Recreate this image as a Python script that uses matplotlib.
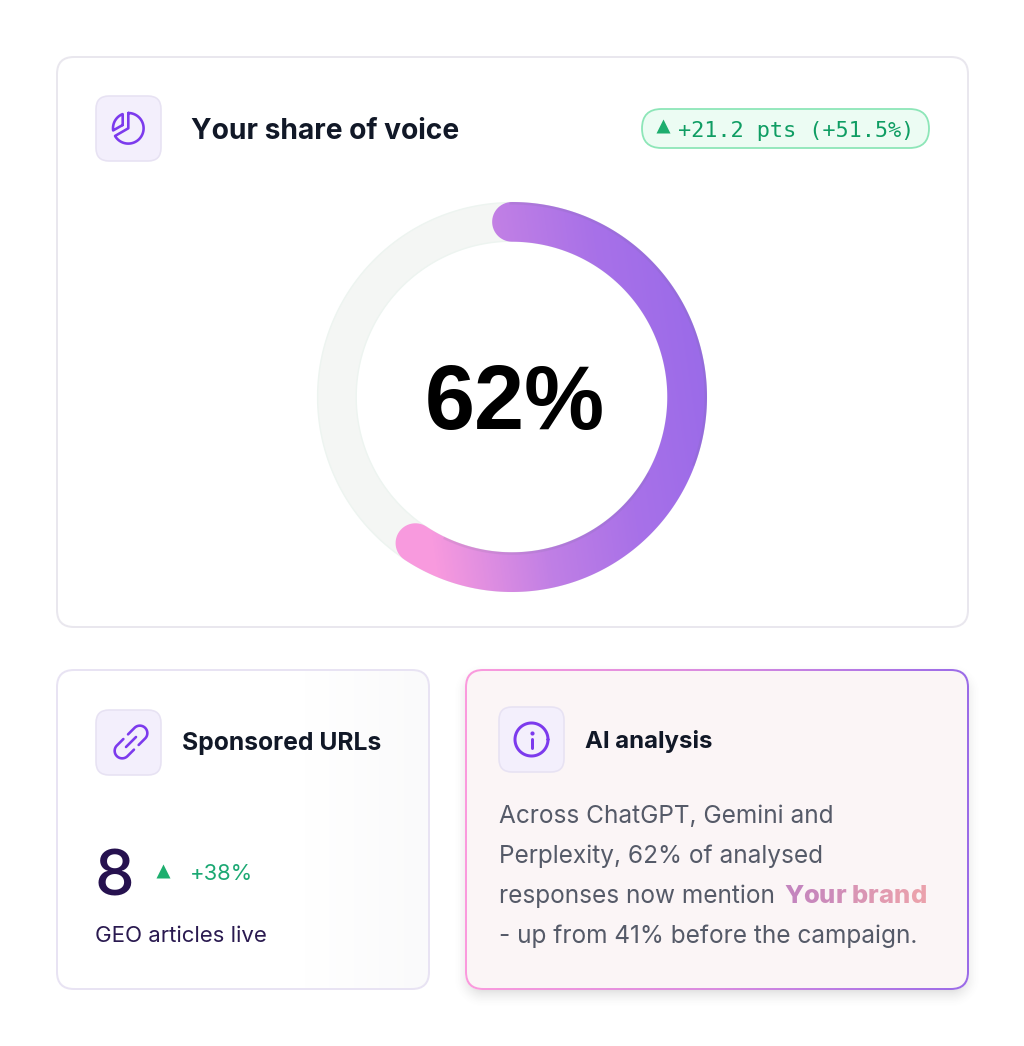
import matplotlib
matplotlib.use('Agg')
import matplotlib.pyplot as plt
import numpy as np
from matplotlib.patches import FancyBboxPatch, PathPatch
from matplotlib.path import Path
from matplotlib.colors import LinearSegmentedColormap

# values
share = 62
card_title = "Your share of voice"
pill_label = "+21.2 pts (+51.5%)"
share_label = "62%"
urls_title = "Sponsored URLs"
urls_value = "8"
urls_change = "+38%"
urls_caption = "GEO articles live"
ai_title = "AI analysis"
ai_lines = ["Across ChatGPT, Gemini and", "Perplexity, 62% of analysed",
            "responses now mention", "- up from 41% before the campaign."]
ai_brand = "Your brand"

W, H = 1024, 1046
PX = 0.72  # one pixel in points at dpi 100
PURPLE = '#7C3AED'
GREEN = '#1DAE6E'

plt.rcParams['font.family'] = ['Inter', 'DejaVu Sans']

fig = plt.figure(figsize=(W / 100, H / 100), dpi=100)
ax = fig.add_axes([0, 0, 1, 1])
ax.axis('off')


def rbox(x0, y0, x1, y1, r, fc, ec, lw=2, z=1):
    p = FancyBboxPatch((x0 + r, y0 + r), x1 - x0 - 2 * r, y1 - y0 - 2 * r,
                       boxstyle='round,pad=%f,rounding_size=%f' % (r, r),
                       fc=fc, ec=ec, lw=lw * PX, zorder=z)
    ax.add_patch(p)
    return p


def hgrad(x0, x1, y0, y1, colors, clip=None, z=2):
    cmap = LinearSegmentedColormap.from_list('g', colors)
    g = np.linspace(0, 1, 256).reshape(1, -1)
    im = ax.imshow(g, extent=(x0, x1, y1, y0), cmap=cmap, aspect='auto',
                   interpolation='bilinear', zorder=z)
    if clip is not None:
        im.set_clip_path(clip)
    return im


def icon_box(x0, y0):
    rbox(x0, y0, x0 + 65, y0 + 65, 13, '#F3EFFC', '#E7E2F3', 1.6, z=4)


def stroke(xs, ys, lw=2.6, color=PURPLE):
    ax.plot(xs, ys, color=color, lw=lw * PX, solid_capstyle='round',
            solid_joinstyle='round', zorder=5)


def arc_xy(cx, cy, r, a0, a1, n=60):
    # angles clockwise from the top, in degrees
    a = np.radians(np.linspace(a0, a1, n))
    return cx + r * np.sin(a), cy - r * np.cos(a)


# main card
rbox(57, 57, 968, 627, 17, 'white', '#E9E7EE', 2)
icon_box(96, 96)
xs, ys = arc_xy(128.3, 128.3, 15.3, 0, 240)
stroke(np.r_[128.3, xs, 128.3, 128.3], np.r_[113, ys, 128.3, 113])
xs, ys = arc_xy(128.3, 128.3, 15.3, 262, 338)
stroke(np.r_[122.7, xs, 122.7, 122.7], np.r_[125, ys, 114.3, 125])
ax.text(191, 139, card_title, fontsize=28.2 * PX, fontweight='bold', color='#111827',
        va='baseline', ha='left', zorder=5)

# change pill
rbox(642, 109, 929, 148, 19.5, '#ECFCF3', '#8DE6B8', 1.8)
ax.plot([663], [126], marker='^', ms=11 * PX * 1.25, color=GREEN, mec='none', zorder=5)
ax.text(678, 137, pill_label, fontsize=21.9 * PX, family='DejaVu Sans Mono', color='#0F9D63',
        va='baseline', ha='left', zorder=5)

# ring
cx, cy, R_out, R_in = 512, 397, 195, 155.3
R_mid = (R_out + R_in) / 2
cap = (R_out - R_in) / 2
cap_deg = np.degrees(cap / R_mid)
a = np.linspace(0, 2 * np.pi, 300)
track = Path(np.r_[np.c_[cx + (R_out - 0.6) * np.cos(a), cy + (R_out - 0.6) * np.sin(a)],
                   np.c_[cx + (R_in + 0.5) * np.cos(a[::-1]), cy + (R_in + 0.5) * np.sin(a[::-1])]])
ax.add_patch(PathPatch(track, fc='#F4F6F4', ec='#EDF4F0', lw=1.4 * PX, zorder=2))

end_deg = share / 100 * 360 - cap_deg * 1.5
ox, oy = arc_xy(cx, cy, R_out, 0, end_deg, 200)
ix, iy = arc_xy(cx, cy, R_in, end_deg, 0, 200)
ex, ey = arc_xy(cx, cy, R_mid, end_deg, end_deg, 1)
t = np.radians(end_deg) + np.linspace(0, np.pi, 30)
end_x = ex[0] + cap * np.sin(t)
end_y = ey[0] - cap * np.cos(t)
t2 = np.linspace(np.pi, 2 * np.pi, 30)
start_x = cx + cap * np.sin(t2)
start_y = cy - R_mid - cap * np.cos(t2)
verts = np.c_[np.r_[ox, end_x, ix, start_x], np.r_[oy, end_y, iy, start_y]]
band = PathPatch(Path(np.r_[verts, verts[:1]], closed=True), fc='none', ec='none', zorder=2)
ax.add_patch(band)
ring_cmap = LinearSegmentedColormap.from_list(
    'ring', [(0, '#F89ADE'), (0.39, '#C07FE5'), (0.7, '#A871E8'), (1, '#9B6BE8')])
gx, gy = np.meshgrid(np.linspace(300, 720, 420), np.linspace(190, 600, 410))
ring_t = np.clip((gx - 410) / 297 + (397 - gy) * 0.0005, 0, 1)
im = ax.imshow(ring_t, extent=(300, 720, 600, 190), cmap=ring_cmap, vmin=0, vmax=1,
               aspect='auto', interpolation='bilinear', zorder=3)
im.set_clip_path(band)
# faint dark rim on the coloured arc
for rr, a0, a1 in [(R_out, 0, 110), (R_in, 120, 205)]:
    xs, ys = arc_xy(cx, cy, rr, a0, a1, 120)
    rim, = ax.plot(xs, ys, color='#6B6B8A', lw=5 * PX, alpha=0.13, zorder=3.5)
    rim.set_clip_path(band)
ax.text(cx + 3, 429, share_label, fontsize=90 * PX, fontweight='bold', family='Liberation Sans',
        color='black', ha='center', va='baseline', zorder=5)

# sponsored urls card
card = rbox(57, 670, 429, 989, 17, 'white', 'none', 0)
hgrad(57, 429, 670, 989, ['#FFFFFF', '#FFFFFF', '#FFFFFF', '#FAFAFB'], clip=card, z=1.5)
rbox(57, 670, 429, 989, 17, 'none', '#E8E3F3', 2, z=2)
icon_box(96, 710)
icx, icy = 131, 742
u = np.array([1, -1]) / np.sqrt(2)
v = np.array([1, 1]) / np.sqrt(2)
for sign in (1, -1):
    th = np.linspace(-np.pi / 2, np.pi / 2, 30)
    us = np.r_[3.3, 12.5 + 7.5 * np.cos(th), 3.3]
    vs = np.r_[-7.5, 7.5 * np.sin(th), 7.5]
    stroke(icx + sign * (us * u[0] + vs * v[0]), icy + sign * (us * u[1] + vs * v[1]))
stroke([icx - 5, icx + 5], [icy + 5, icy - 5])
ax.text(182, 750, urls_title, fontsize=24.7 * PX, fontweight='bold', color='#111827',
        va='baseline', ha='left', zorder=5)
ax.text(95, 895, urls_value, fontsize=63 * PX, fontweight='medium', color='#26114F',
        va='baseline', ha='left', zorder=5)
ax.plot([163], [871], marker='^', ms=11 * PX * 1.25, color=GREEN, mec='none', zorder=5)
ax.text(190, 880, urls_change, fontsize=22 * PX, fontweight='normal', color='#1BA873',
        va='baseline', ha='left', zorder=5)
ax.text(95, 942, urls_caption, fontsize=22.2 * PX, color='#2A1A50',
        va='baseline', ha='left', zorder=5)

# ai analysis card, shadow first
x0, y0, x1, y1, r = 466, 670, 968, 989, 17
gx, gy = np.meshgrid(np.arange(440, 995), np.arange(650, 1030))
qx = np.abs(gx + 0.5 - (x0 + x1) / 2) - ((x1 - x0) / 2 - r)
qy = np.abs(gy + 0.5 - (y0 + y1 + 12) / 2) - ((y1 - y0) / 2 - r)
d = np.hypot(np.maximum(qx, 0), np.maximum(qy, 0)) + np.minimum(np.maximum(qx, qy), 0) - r
alpha = np.clip(0.5 - d / 28, 0, 1) ** 2 * 0.38
shadow = np.zeros(d.shape + (4,))
shadow[..., :3] = 0.35
shadow[..., 3] = alpha
ax.imshow(shadow, extent=(440, 995, 1030, 650), aspect='auto', interpolation='bilinear', zorder=1)
outer = rbox(x0 - 1, y0 - 1, x1 + 1, y1 + 1, r + 1, 'white', 'none', 0, z=1.2)
hgrad(x0 - 1, x1 + 1, y0 - 1, y1 + 1, ['#FB9BDD', '#D98BE0', '#9B6BE8'], clip=outer, z=1.5)
rbox(x0 + 1, y0 + 1, x1 - 1, y1 - 1, r - 1, '#FBF5F6', 'none', 0, z=2)
icon_box(499, 707)
a = np.linspace(0, 2 * np.pi, 100)
stroke(531.5 + 16.5 * np.cos(a), 739.5 + 16.5 * np.sin(a), lw=3)
stroke([531.5, 531.5], [739, 747.5], lw=3)
ax.plot([531.5], [733], marker='o', ms=3.2 * PX * 1.3, color=PURPLE, mec='none', zorder=5)
ax.text(585, 748, ai_title, fontsize=24 * PX, fontweight='bold', color='#111827',
        va='baseline', ha='left', zorder=5)
line_base = [823, 863, 903, 943]
for s, b in zip(ai_lines, line_base):
    ax.text(499, b, s, fontsize=24.4 * PX, color='#555A68',
            va='baseline', ha='left', zorder=5)

ax.set_xlim(0, W)
ax.set_ylim(H, 0)

# brand name, coloured letter by letter along a gradient
fig.canvas.draw()
rend = fig.canvas.get_renderer()
cmap_brand = LinearSegmentedColormap.from_list('b', ['#C485BE', '#EAA1AC'])
brand_x = 784
brand_size = 25.6 * PX
probe = ax.text(0, 0, '|', fontsize=brand_size, fontweight=800)
w_bar = probe.get_window_extent(rend).width
for i, ch in enumerate(ai_brand):
    probe.set_text(ai_brand[:i] + '|')
    off = probe.get_window_extent(rend).width - w_bar if i else 0
    ax.text(brand_x + off, line_base[2], ch, fontsize=brand_size, fontweight=800,
            color=cmap_brand(i / (len(ai_brand) - 1)), va='baseline', ha='left', zorder=5)
probe.remove()

fig.savefig('out.png', dpi=100, facecolor='white')
